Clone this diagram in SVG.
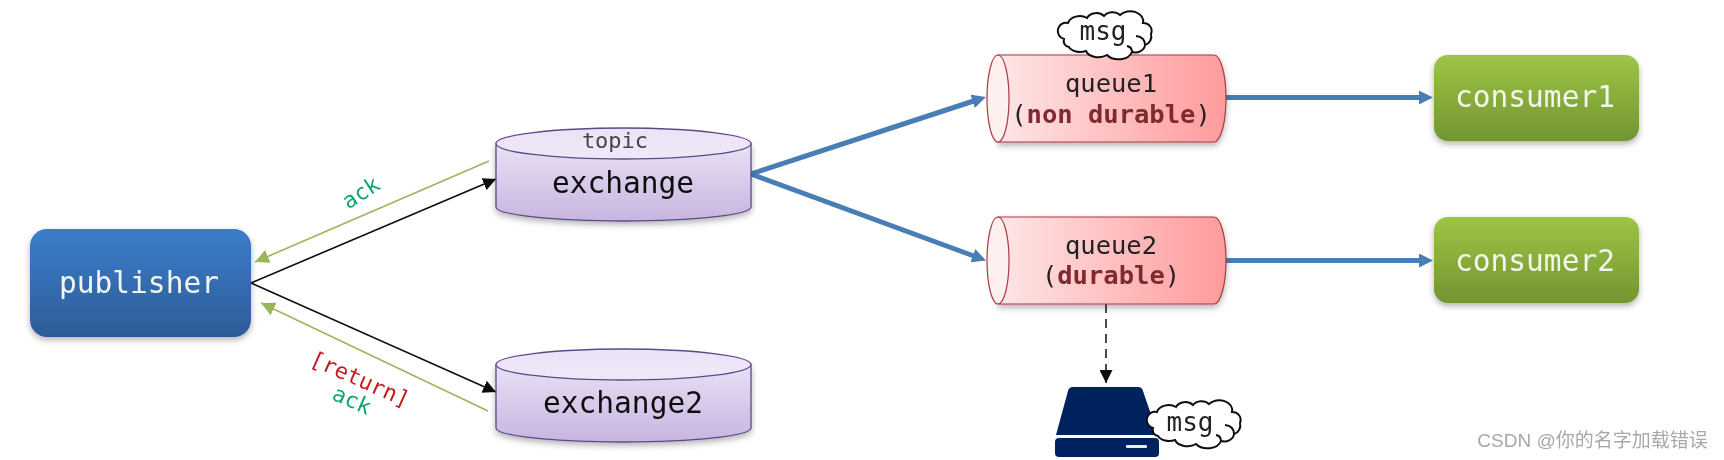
<svg xmlns="http://www.w3.org/2000/svg" xmlns:xlink="http://www.w3.org/1999/xlink" width="1724" height="460" viewBox="0 0 1724 460">
<style>
text{font-family:"DejaVu Sans Mono","Liberation Mono",monospace;text-anchor:middle}
.big{font-size:29.500px}
.q{font-size:25.500px;fill:#222}
.b{font-weight:bold;fill:#7f2a2e}
.w{fill:#f2f6ee}
.ack{font-size:22px;fill:#10a868}
.ret{font-size:22px;fill:#c41a1a}
.ex{stroke:#5d4a88;stroke-width:1.3}
.qb{stroke:#a83a44;stroke-width:1.2}
.cl{fill:#fff;stroke:#111;stroke-width:2}
.cu{fill:none;stroke:#111;stroke-width:2}
.blue{stroke:#4a7db5;stroke-width:5;fill:none;stroke-linecap:round}
.blk{stroke:#111;stroke-width:1.6;fill:none}
.grn{stroke:#9bb55a;stroke-width:1.6;fill:none}
</style>
<defs>
<linearGradient id="gP" x1="0" y1="0" x2="0" y2="1"><stop offset="0" stop-color="#3b7dcb"/><stop offset="1" stop-color="#2e5c98"/></linearGradient>
<linearGradient id="gC" x1="0" y1="0" x2="0" y2="1"><stop offset="0" stop-color="#9dc545"/><stop offset="1" stop-color="#729530"/></linearGradient>
<linearGradient id="gE" x1="0" y1="0" x2="0" y2="1"><stop offset="0" stop-color="#e9e0f5"/><stop offset="1" stop-color="#c8b5e0"/></linearGradient>
<linearGradient id="gT" x1="0" y1="0" x2="0" y2="1"><stop offset="0" stop-color="#ebe3f6"/><stop offset="1" stop-color="#efe8f8"/></linearGradient>
<linearGradient id="gQ" x1="0" y1="0" x2="1" y2="0"><stop offset="0" stop-color="#ffe6e6"/><stop offset="1" stop-color="#ff9a9c"/></linearGradient>
<filter id="sh" x="-10%" y="-15%" width="120%" height="135%"><feDropShadow dx="0" dy="3" stdDeviation="3" flood-color="#000" flood-opacity="0.3"/></filter>
<filter id="soft" filterUnits="userSpaceOnUse" x="0" y="0" width="1724" height="460"><feGaussianBlur stdDeviation="0.6"/></filter>
<marker id="mK" markerUnits="userSpaceOnUse" markerWidth="14" markerHeight="13" refX="13" refY="6.5" orient="auto"><path d="M0,0L13,6.5L0,13z" fill="#111"/></marker>
<marker id="mG" markerUnits="userSpaceOnUse" markerWidth="15" markerHeight="14" refX="14" refY="7" orient="auto"><path d="M0,0L14,7L0,14z" fill="#9bb55a"/></marker>
<marker id="mB" markerUnits="userSpaceOnUse" markerWidth="15" markerHeight="14" refX="1" refY="7" orient="auto"><path d="M0,0L14,7L0,14z" fill="#4a7db5"/></marker>
<path id="cloud" d="M4,27A7,7 0 0 1 8,11A12,9 0 0 1 27,6A10,8 0 0 1 44,4A10,8 0 0 1 60,3A13,10 0 0 1 83,11A8,8 0 0 1 91,22A9,9 0 0 1 85,33A10,8 0 0 1 72,40A14,10 0 0 1 47,43A13,9 0 0 1 26,39A12,8 0 0 1 9,35A6,6 0 0 1 4,27Z"/>
<path id="curl" d="M85,33Q85,25 76,24M72,40Q72,35 67,34"/>
</defs>
<rect width="1724" height="460" fill="#fff"/>
<g filter="url(#soft)">
<g id="connectors">
<line class="blk" x1="251" y1="283" x2="496" y2="179" marker-end="url(#mK)"/>
<line class="blk" x1="251" y1="283" x2="496" y2="392" marker-end="url(#mK)"/>
<line class="grn" x1="489" y1="161" x2="255" y2="262" marker-end="url(#mG)"/>
<line class="grn" x1="488" y1="411" x2="261" y2="303" marker-end="url(#mG)"/>
<line class="blue" x1="751" y1="174" x2="973.6" y2="101" marker-end="url(#mB)"/>
<line class="blue" x1="751" y1="174" x2="973.8" y2="256" marker-end="url(#mB)"/>
<line class="blue" x1="1226" y1="97.500" x2="1420" y2="97.500" marker-end="url(#mB)"/>
<line class="blue" x1="1226" y1="260.500" x2="1420" y2="260.500" marker-end="url(#mB)"/>
<line x1="1106" y1="304" x2="1106" y2="383" stroke="#111" stroke-width="1.5" stroke-dasharray="9 6" marker-end="url(#mK)"/>
</g>
<g id="publisher">
<rect x="30" y="229" width="221" height="108" rx="17" fill="url(#gP)" filter="url(#sh)"/>
<text class="big w" x="139" y="293">publisher</text>
</g>
<g id="exchange">
<path class="ex" d="M496,143.500V207A127.500,14 0 0 0 751,207V143.500Z" fill="url(#gE)" filter="url(#sh)"/>
<ellipse class="ex" cx="623.500" cy="143.500" rx="127.500" ry="15.500" fill="url(#gT)"/>
<text x="615" y="148" font-size="22" fill="#444">topic</text>
<text class="big" x="623" y="193" fill="#111">exchange</text>
</g>
<g id="exchange2">
<path class="ex" d="M496,364.500V428A127.500,14 0 0 0 751,428V364.500Z" fill="url(#gE)" filter="url(#sh)"/>
<ellipse class="ex" cx="623.500" cy="364.500" rx="127.500" ry="15.500" fill="url(#gT)"/>
<text class="big" x="623" y="413" fill="#111">exchange2</text>
</g>
<g id="queue1">
<path class="qb" d="M998,55H1214A12,43.500 0 0 1 1214,142H998Z" fill="url(#gQ)" filter="url(#sh)"/>
<ellipse class="qb" cx="998" cy="98.500" rx="11" ry="43.500" fill="#fff0f0"/>
<text class="q" x="1111" y="92">queue1</text>
<text class="q" x="1111" y="122.500">(<tspan class="b">non durable</tspan>)</text>
</g>
<g id="queue2">
<path class="qb" d="M998,217H1214A12,43.500 0 0 1 1214,304H998Z" fill="url(#gQ)" filter="url(#sh)"/>
<ellipse class="qb" cx="998" cy="260.500" rx="11" ry="43.500" fill="#fff0f0"/>
<text class="q" x="1111" y="254">queue2</text>
<text class="q" x="1111" y="284">(<tspan class="b">durable</tspan>)</text>
</g>
<g id="consumer1">
<rect x="1434" y="55" width="205" height="86" rx="14" fill="url(#gC)" filter="url(#sh)"/>
<text class="big w" x="1535" y="107">consumer1</text>
</g>
<g id="consumer2">
<rect x="1434" y="217" width="205" height="86" rx="14" fill="url(#gC)" filter="url(#sh)"/>
<text class="big w" x="1535" y="271">consumer2</text>
</g>
<g id="msg1">
<use xlink:href="#cloud" href="#cloud" class="cl" transform="translate(1060,12)"/>
<use xlink:href="#curl" href="#curl" class="cu" transform="translate(1060,12)"/>
<text x="1103" y="40" font-size="26px" fill="#222">msg</text>
</g>
<g id="disk">
<path d="M1073,387H1138Q1142,387 1143,391L1158,435H1056L1068,391Q1069,387 1073,387Z" fill="#02205e"/>
<rect x="1055" y="438" width="104" height="19" rx="4" fill="#02205e"/>
<rect x="1126" y="445" width="21" height="3" rx="1" fill="#e8ecf4"/>
</g>
<g id="msg2">
<use xlink:href="#cloud" href="#cloud" class="cl" transform="translate(1149,401)"/>
<use xlink:href="#curl" href="#curl" class="cu" transform="translate(1149,401)"/>
<text x="1190" y="431" font-size="26px" fill="#222">msg</text>
</g>
<g id="labels">
<text class="ack" transform="translate(365,199) rotate(-33)">ack</text>
<text class="ret" transform="translate(357,386) rotate(24)">[return]</text>
<text class="ack" transform="translate(349,407) rotate(24)">ack</text>
<text x="1592.500" y="447" font-size="19" fill="#a8a8a8" style="font-family:'Liberation Sans','Noto Sans CJK SC',sans-serif">CSDN @你的名字加载错误</text>
</g>
</g>
</svg>
